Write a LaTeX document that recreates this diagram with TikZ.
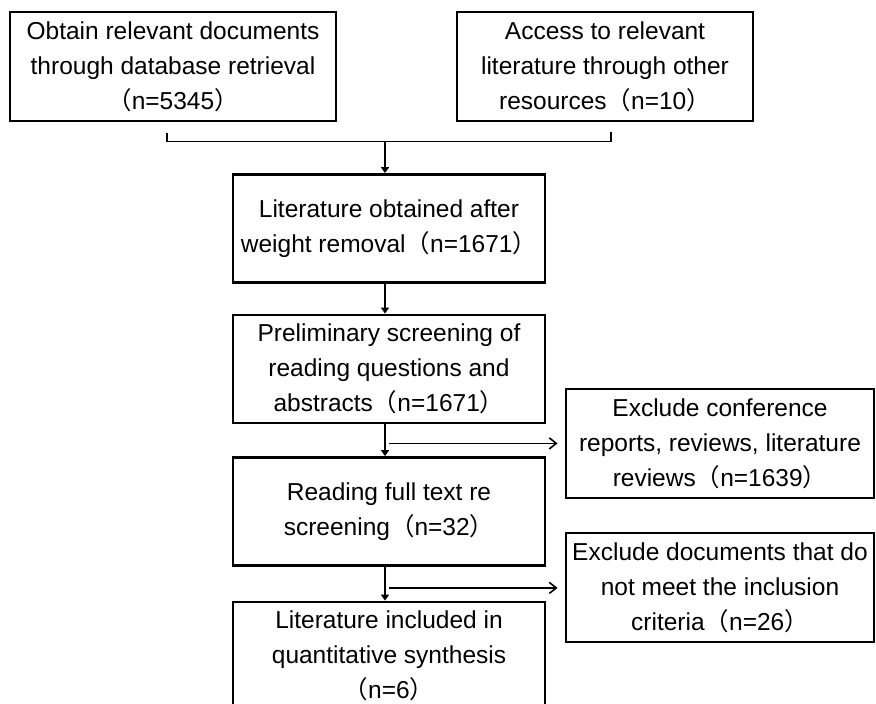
\documentclass[tikz,border=0pt]{standalone}
\usepackage{fontspec}
\setmainfont{Liberation Sans}
\newfontfamily\cjk{Noto Sans CJK SC}
\usetikzlibrary{arrows.meta}
\newcommand{\openp}{{\cjk （}}
\newcommand{\closep}{{\cjk ）}}
\begin{document}
\begin{tikzpicture}[x=1pt,y=-1pt]
        \tikzstyle{stage}=[draw=black,line width=2.8pt,align=center,inner sep=0pt,minimum width=312pt,minimum height=108pt,font=\fontsize{24.5}{35}\selectfont]
        \tikzstyle{source}=[stage,minimum height=109pt]
        \tikzstyle{exclude}=[stage,minimum width=308pt,minimum height=109pt]
        \tikzstyle{edge}=[draw=black,line width=1.6pt,-{Triangle[length=6pt,width=8pt]}]
        \tikzstyle{side}=[draw=black,line width=1.6pt,-{Straight Barb[length=7pt,width=11pt]}]
        \tikzstyle{bracket}=[draw=black,line width=1.6pt]

        \useasboundingbox (0,0) rectangle (876,704);
        \clip (0,0) rectangle (876,704);

        \begin{scope}

            \node [source,minimum width=326pt] (db)    at (173,66.5) {Obtain relevant documents\\through database retrieval\\\openp n=5345\closep};
            \node [source,minimum width=296pt] (other) at (605,66.5) {Access to relevant\\literature through other\\resources\openp n=10\closep};

            \node [stage] (dedup)   at (389,228.5) {Literature obtained after\\weight removal\openp n=1671\closep};
            \node [stage] (screen)  at (389,369)   {Preliminary screening of\\reading questions and\\abstracts\openp n=1671\closep};
            \node [stage] (full)    at (389,511.5) {Reading full text re\\screening\openp n=32\closep};
            \node [stage] (include) at (389,656)   {Literature included in\\quantitative synthesis\\\openp n=6\closep};

            \node [exclude] (ex1) at (720,443.5) {Exclude conference\\reports, reviews, literature\\reviews\openp n=1639\closep};
            \node [exclude] (ex2) at (720,587.5) {Exclude documents that do\\not meet the inclusion\\criteria\openp n=26\closep};

            % joining bracket under the two sources
            \coordinate (jl) at ([xshift=-6pt,yshift=-11pt]db.south);
            \coordinate (jr) at ([xshift=6pt,yshift=-10pt]other.south);
            \coordinate (jm) at ([xshift=-4pt,yshift=-19pt]db.south -| dedup.north);
            \draw[bracket] (jl) |- (jm) -| (jr);
            \draw[edge] (jm) -- (jm |- dedup.north);

            \draw[edge] ([xshift=-4pt]dedup.south) -- ([xshift=-4pt]screen.north);
            \draw[edge] ([xshift=-4pt]screen.south) -- ([xshift=-4pt]full.north);
            \draw[edge] ([xshift=-4pt]full.south) -- ([xshift=-4pt]include.north);

            \coordinate (s1) at ([yshift=-19pt]screen.south);
            \coordinate (s2) at ([yshift=-21pt]full.south);
            \draw[side] (s1) -- ([xshift=-7pt]s1 -| ex1.west);
            \draw[side] (s2) -- ([xshift=-7pt]s2 -| ex2.west);

        \end{scope}
\end{tikzpicture}
\end{document}
